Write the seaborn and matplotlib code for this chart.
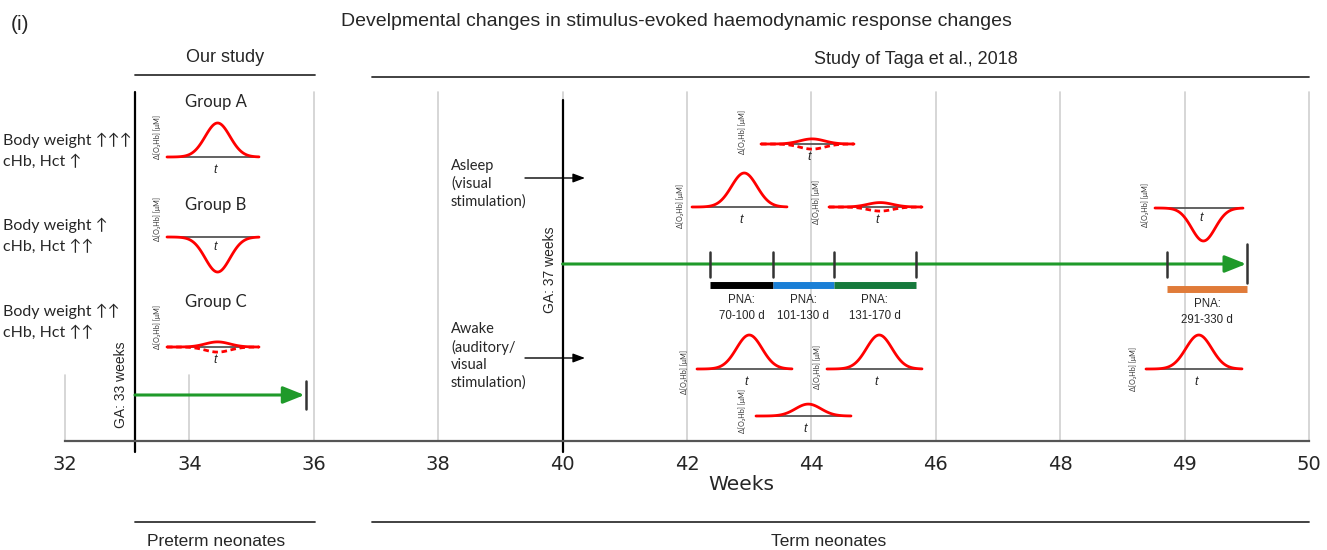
import numpy as np
import pandas as pd
import matplotlib
matplotlib.use('Agg')
import matplotlib.pyplot as plt
import seaborn as sns

sns.set_theme(style='white')
plt.rcParams['font.family'] = ['Liberation Sans', 'DejaVu Sans']

W, H = 1327, 550

# x axis: weeks (ticks are evenly spaced, 48-49-50 squeezed in)
tick_weeks = [32, 34, 36, 38, 40, 42, 44, 46, 48, 49, 50]

# our study (preterm)
preterm_ga = 33.1
preterm_end = 35.85
# Taga et al. 2018 (term)
term_ga = 40.0
term_end = 49.5
pna_labels = ['PNA:\n70-100 d', 'PNA:\n101-130 d', 'PNA:\n131-170 d', 'PNA:\n291-330 d']
pna_start = [42.37, 43.38, 44.36, 48.86]
pna_stop = [43.38, 44.36, 45.68, 49.5]
pna_colors = ['#000000', '#1a7fd6', '#167a3c', '#e07b39']

groups = ['Group A', 'Group B', 'Group C']
group_notes = ['Body weight ↑↑↑\ncHb, Hct ↑', 'Body weight ↑\ncHb, Hct ↑↑', 'Body weight ↑↑\ncHb, Hct ↑↑']
group_amp = [1.0, -1.03, 0.15]
group_alt = [None, None, -0.15]

# Taga responses (relative O2Hb amplitude)
asleep_amp = [1.0, 0.15, 0.13, -0.97]
asleep_alt = [None, -0.15, -0.12, None]
awake_amp = [1.0, 1.0, 0.35, 1.0]

# inset placement in pixels: (left, right, baseline y, y-label dx, y-label dy)
group_box = [(167, 259, 157, -10, -20), (167, 259, 237, -10, -18), (167, 259, 347, -10, -20)]
group_title_y = [102, 205, 302]
group_note_y = [151, 236, 322]
asleep_box = [(692, 787, 207, -12, -1), (761, 854, 144, -19, -12), (829, 922, 207, -13, -5),
              (1155, 1243, 208, -10, -3)]
awake_box = [(697, 792, 369, -13, 3), (827, 922, 369, -10, -2), (756, 851, 416, -14, -5),
             (1146, 1242, 369, -13, 0)]

GREEN = '#1f9a2a'
GRID = '#cfcfcf'


def px(p):
    return (p - 65) / 124.4


def wk(w):
    return np.interp(w, tick_weeks, np.arange(len(tick_weeks)))


fig = plt.figure(figsize=(W / 100, H / 100), dpi=100)
ax = fig.add_axes([65 / W, 109 / H, 1244 / W, 366 / H])
ax.set_xlim(0, len(tick_weeks) - 1)
ax.set_ylim(441, 75)


def response(box, amp, alt=None):
    x0, x1, yb, ldx, ldy = box
    t = np.linspace(0, 1, 120)
    shape = np.exp(-((t - 0.55) / 0.19) ** 2)
    xs = px(x0 + (x1 - x0) * t)
    ax.plot([px(x0), px(x1)], [yb, yb], color='#555555', lw=1.3, zorder=3)
    df = pd.DataFrame({'x': xs, 'y': yb - 34 * amp * shape})
    sns.lineplot(data=df, x='x', y='y', ax=ax, color='red', lw=2, sort=False, zorder=4)
    if alt is not None:
        df2 = pd.DataFrame({'x': xs, 'y': yb - 34 * alt * shape})
        sns.lineplot(data=df2, x='x', y='y', ax=ax, color='red', lw=2, sort=False,
                     linestyle=(0, (2, 1.3)), zorder=4)
    ty = yb + 13 if amp > 0 else yb + 10
    ax.text(px(x0 + (x1 - x0) * 0.52), ty, 't', style='italic', fontsize=9,
            ha='center', va='center', zorder=5)
    ax.text(px(x0 + ldx), yb + ldy, 'Δ[O₂Hb] [μM]', rotation=90, fontsize=5.2,
            ha='center', va='center', color='#333333', family=['Lato', 'DejaVu Sans'])


# grid lines
for i, w in enumerate(tick_weeks):
    y_top = 375 if w < 35 else 92
    ax.plot([i, i], [441, y_top], color=GRID, lw=1.2, zorder=1, clip_on=False)

# GA lines
ax.plot([px(135)] * 2, [92, 452], color='black', lw=1.6, zorder=2, clip_on=False)
ax.plot([wk(term_ga)] * 2, [100, 452], color='black', lw=1.6, zorder=2, clip_on=False)
ax.text(px(121), 385, 'GA: 33 weeks', rotation=90, ha='center', va='center', fontsize=10)
ax.text(px(550), 270, 'GA: 37 weeks', rotation=90, ha='center', va='center', fontsize=10)

# timelines
ax.annotate('', xy=(wk(preterm_end), 395), xytext=(px(135), 395),
            arrowprops=dict(arrowstyle='-|>,head_length=1.0,head_width=0.4', color=GREEN,
                            lw=2.2, mutation_scale=13, shrinkA=0, shrinkB=0), zorder=3)
ax.plot([wk(preterm_end) + 0.01] * 2, [381, 409], color='#333333', lw=1.8, zorder=3)

ax.annotate('', xy=(wk(term_end) - 0.005, 264), xytext=(wk(term_ga), 264),
            arrowprops=dict(arrowstyle='-|>,head_length=1.0,head_width=0.4', color=GREEN,
                            lw=2.2, mutation_scale=13, shrinkA=0, shrinkB=0), zorder=3)
ax.plot([wk(term_end)] * 2, [244, 283], color='#333333', lw=1.8, zorder=4)
for s in sorted(set(pna_start + pna_stop[:3])):
    ax.plot([wk(s)] * 2, [252, 277], color='#333333', lw=1.8, zorder=4)

for lab, s, e, c in zip(pna_labels, pna_start, pna_stop, pna_colors):
    yb = 289 if c == '#e07b39' else 285
    ax.text((wk(s) + wk(e)) / 2, yb + 23, lab, ha='center', va='center', fontsize=8.3,
            linespacing=1.45)
    ax.plot([wk(s), wk(e)], [yb, yb], color=c, lw=5, solid_capstyle='butt', zorder=3)

# responses
for name, note, amp, alt, box, gy, ny in zip(groups, group_notes, group_amp, group_alt,
                                             group_box, group_title_y, group_note_y):
    response(box, amp, alt)
    ax.text(px(216), gy, name, ha='center', va='center',
            fontsize=12, family=['Lato', 'DejaVu Sans'], clip_on=False)
    ax.text(px(3), ny, note, ha='left', va='center',
            fontsize=11.5, linespacing=1.55, family=['Lato', 'DejaVu Sans'], clip_on=False)

for amp, alt, box in zip(asleep_amp, asleep_alt, asleep_box):
    response(box, amp, alt)
for amp, box in zip(awake_amp, awake_box):
    response(box, amp)

# state labels and arrows
ax.text(px(451), 184, 'Asleep\n(visual\nstimulation)', ha='left', va='center', fontsize=10.5,
        linespacing=1.3, family=['Lato', 'DejaVu Sans'])
ax.text(px(451), 356, 'Awake\n(auditory/\nvisual\nstimulation)', ha='left', va='center',
        fontsize=10.5, linespacing=1.3, family=['Lato', 'DejaVu Sans'])
for y in [178, 358]:
    ax.annotate('', xy=(px(585), y), xytext=(px(525), y),
                arrowprops=dict(arrowstyle='-|>,head_length=0.8,head_width=0.3', color='black',
                                lw=1, mutation_scale=9, shrinkA=0, shrinkB=0))

# axis styling
sns.despine(ax=ax, left=True, top=True, right=True)
ax.spines['bottom'].set_color('#555555')
ax.spines['bottom'].set_linewidth(1.6)
ax.set_yticks([])
ax.set_xticks(range(len(tick_weeks)))
ax.set_xticklabels(tick_weeks, fontsize=14, family=['DejaVu Sans'])
ax.tick_params(axis='x', length=0, pad=10)
ax.set_xlabel('Weeks', fontsize=14.5, family=['DejaVu Sans'])
ax.xaxis.set_label_coords((741 - 65) / 1244, -44 / 366)
ax.xaxis.label.set_va('center')
ax.set_ylabel('')

# study headers and cohort footers
for x0, x1, y, xc, txt in [(135, 315, 75, 225, 'Our study'),
                           (372, 1309, 77, 916, 'Study of Taga et al., 2018')]:
    ax.plot([px(x0), px(x1)], [y, y], color='#333333', lw=1.3, clip_on=False)
    ax.text(px(xc), y - 18, txt, ha='center', va='center', fontsize=13, clip_on=False)
for x0, x1, xc, txt in [(135, 315, 216, 'Preterm neonates'), (372, 1309, 829, 'Term neonates')]:
    ax.plot([px(x0), px(x1)], [522, 522], color='#333333', lw=1.3, clip_on=False)
    ax.text(px(xc), 542, txt, ha='center', va='center', fontsize=12.5, clip_on=False)

fig.text(676 / W, 1 - 21 / H, 'Develpmental changes in stimulus-evoked haemodynamic response changes',
         ha='center', va='center', fontsize=14)
fig.text(11 / W, 1 - 25 / H, '(i)', ha='left', va='center', fontsize=15)

fig.savefig('out.png', dpi=100)
